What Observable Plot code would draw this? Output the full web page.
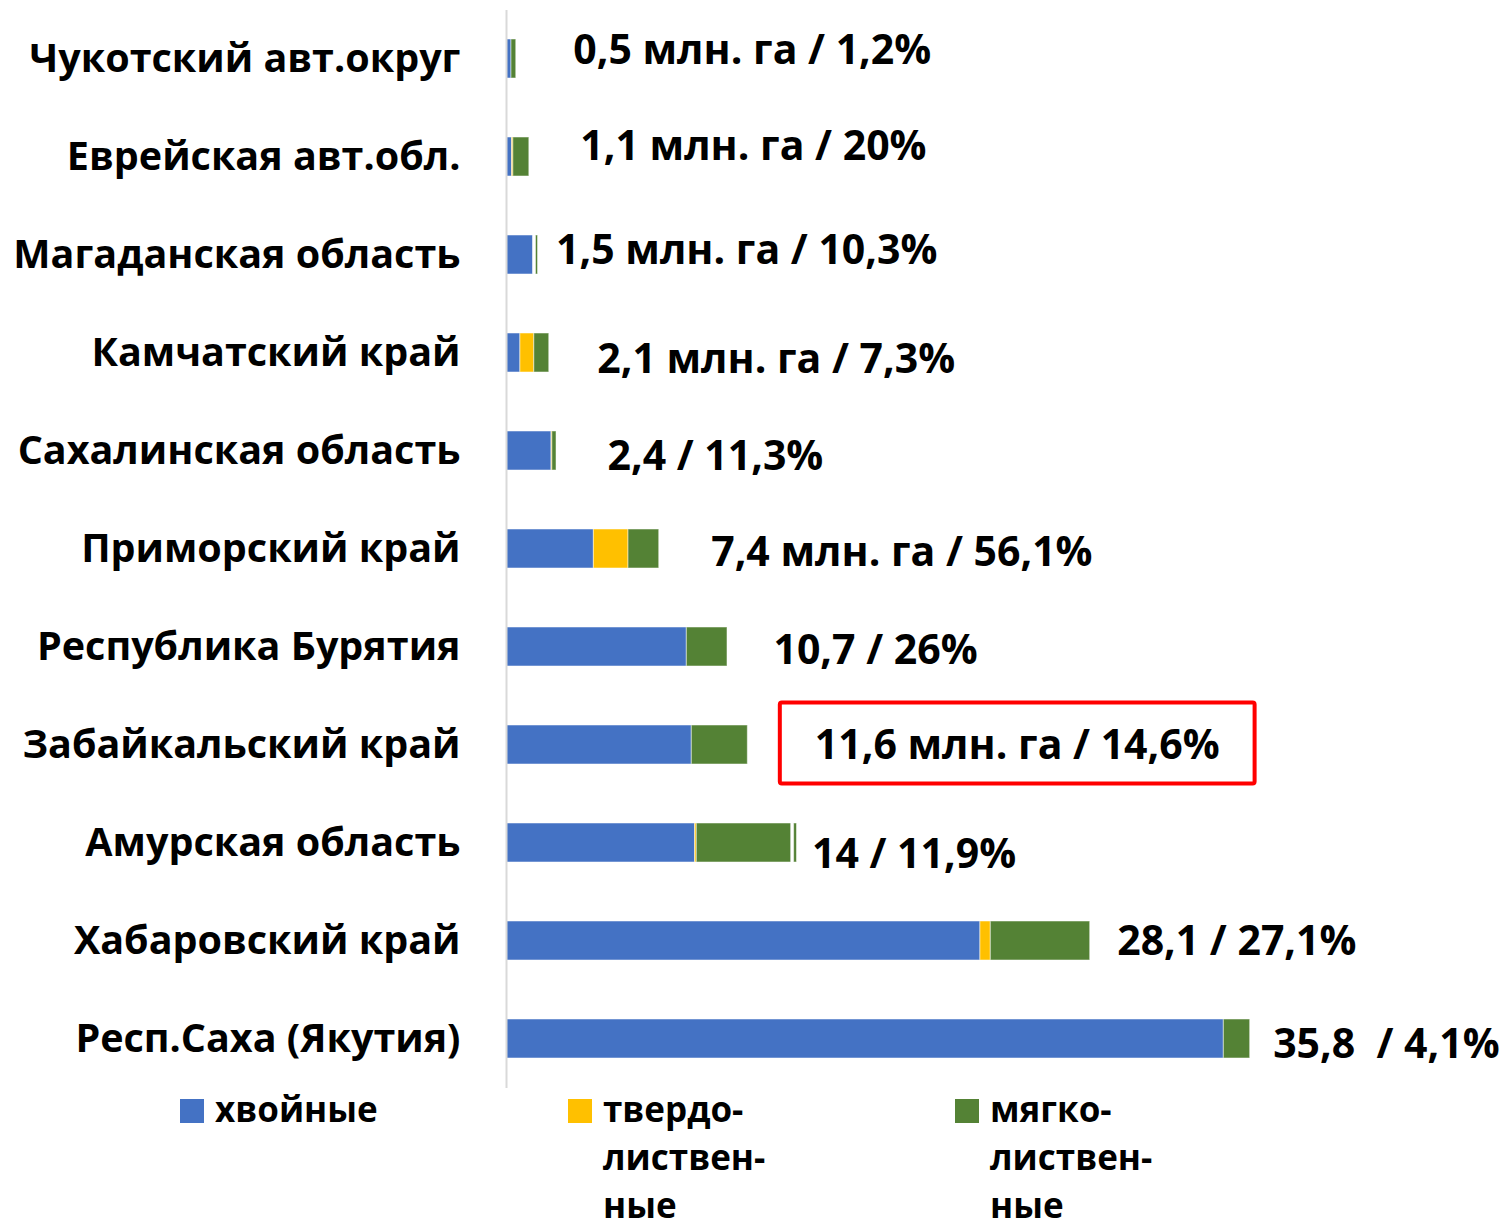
<!DOCTYPE html>
<html>
<head>
<meta charset="utf-8">
<script src="https://cdn.jsdelivr.net/npm/d3@7"></script>
<script src="https://cdn.jsdelivr.net/npm/@observablehq/plot@0.6"></script>
<style>
  html, body { margin: 0; padding: 0; background: #fff; }
  #wrap { position: relative; width: 1512px; height: 1230px; overflow: hidden; font-family: "Open Sans", sans-serif; }
  #chart svg { display: block; }
  #legend { position: relative; height: 140px; }
  .item { position: absolute; top: 0; font-weight: 700; font-size: 35px; line-height: 48px; color: #000; }
  .sw { position: absolute; top: 9px; width: 24px; height: 24px; }
  .lt { position: absolute; top: -5px; white-space: nowrap; }
</style>
</head>
<body>
<div id="wrap">
  <div id="chart"></div>
  <div id="legend"></div>
</div>
<script>
// ---- data (million ha) ----
const regions = [
  "Чукотский авт.округ",
  "Еврейская авт.обл.",
  "Магаданская область",
  "Камчатский край",
  "Сахалинская область",
  "Приморский край",
  "Республика Бурятия",
  "Забайкальский край",
  "Амурская область",
  "Хабаровский край",
  "Респ.Саха (Якутия)"
];
const conifer  = [0.24, 0.27, 1.29, 0.67, 2.17, 4.21, 8.69, 8.93, 9.09, 22.84, 34.57];
const hardwood = [0.00, 0.06, 0.00, 0.67, 0.04, 1.67, 0.00, 0.00, 0.08, 0.50, 0.00];
const softwood = [0.23, 0.77, 0.00, 0.72, 0.20, 1.48, 1.96, 2.70, 4.56, 4.79, 1.27];
const other    = [0.00, 0.00, 0.13, 0.00, 0.00, 0.00, 0.00, 0.00, 0.13, 0.00, 0.00];
const softwood2 = [0.00, 0.00, 0.10, 0.00, 0.00, 0.00, 0.00, 0.00, 0.14, 0.00, 0.00];
const valueLabels = [
  "0,5 млн. га / 1,2%",
  "1,1 млн. га / 20%",
  "1,5 млн. га / 10,3%",
  "2,1 млн. га / 7,3%",
  "2,4 / 11,3%",
  "7,4 млн. га / 56,1%",
  "10,7 / 26%",
  "11,6 млн. га / 14,6%",
  "14 / 11,9%",
  "28,1 / 27,1%",
  "35,8\u00a0 / 4,1%"
];
const highlighted = "Забайкальский край";
const seriesKeys = ["хвойные", "твердолиственные", "мягколиственные", "прочие", "мягколиственные (2)"];
const legendLabels = ["хвойные", "твердо-<br>листвен-<br>ные", "мягко-<br>листвен-<br>ные"];

// ---- styles / layout ----
const colors = ["#4472C4", "#FFC000", "#548235", "#ffffff", "#548235"];
const labelDx = [57, 51, 18, 48, 51, 52, 46, 67, 15, 27, 23];
const labelDy = [-8, -10, -4, 7, 6, 4, 4, 1, 12, 1, 6];
const FONT = "'Open Sans', sans-serif";

const seriesValues = [conifer, hardwood, softwood, other, softwood2];
const table = [];
regions.forEach((r, i) => {
  seriesKeys.forEach((s, k) => table.push({region: r, series: s, value: seriesValues[k][i]}));
});
const totals = regions.map((r, i) => seriesValues.reduce((a, arr) => a + arr[i], 0));

const idx = d3.range(regions.length);
const labelMarks = idx.map(i => Plot.text([i], {
  x: j => totals[j],
  y: j => regions[j],
  text: j => valueLabels[j],
  textAnchor: "start",
  dx: labelDx[i],
  dy: labelDy[i],
  fontSize: 41,
  fontWeight: 700,
  fill: "#000",
  className: regions[i] === highlighted ? "hl-label" : undefined
}));

const chart = Plot.plot({
  width: 1512,
  height: 1090,
  marginLeft: 506,
  marginRight: 10,
  marginTop: 10,
  marginBottom: 2,
  style: {fontFamily: FONT, background: "#fff"},
  x: {domain: [0, 48], axis: null},
  y: {domain: regions, paddingInner: 0.6, paddingOuter: 0.296, label: null},
  color: {domain: seriesKeys, range: colors},
  marks: [
    Plot.axisY({tickSize: 0, tickPadding: 46, fontSize: 39.5, fontWeight: 700, fill: "#000", label: null}),
    Plot.barX(table, {x: "value", y: "region", fill: "series", stroke: "#ffffff", strokeOpacity: 0.5, strokeWidth: 1}),
    Plot.ruleX([0], {stroke: "#d9d9d9", strokeWidth: 2}),
    ...labelMarks
  ]
});
document.getElementById("chart").appendChild(chart);

// red highlight box drawn around the highlighted label
const hl = chart.querySelector(".hl-label text");
if (hl) {
  const bb = hl.getBBox();
  const ctm = hl.getCTM();
  const svgNS = "http://www.w3.org/2000/svg";
  const rect = document.createElementNS(svgNS, "rect");
  const cx = bb.x + bb.width / 2, cy = bb.y + bb.height / 2;
  const w = bb.width + 70, h = 81;
  const p = chart.createSVGPoint(); p.x = cx; p.y = cy;
  const q = p.matrixTransform(ctm);
  rect.setAttribute("x", q.x - w / 2);
  rect.setAttribute("y", q.y - h / 2);
  rect.setAttribute("width", w);
  rect.setAttribute("height", h);
  rect.setAttribute("rx", 2);
  rect.setAttribute("fill", "none");
  rect.setAttribute("stroke", "#ff0000");
  rect.setAttribute("stroke-width", 4);
  chart.appendChild(rect);
}

// legend
const legend = document.getElementById("legend");
const legendLeft = [180, 568, 955];
legendLabels.forEach((lab, k) => {
  const it = document.createElement("div");
  it.className = "item";
  it.style.left = legendLeft[k] + "px";
  it.innerHTML = `<div class="sw" style="background:${colors[k]}"></div><div class="lt" style="left:35px">${lab}</div>`;
  legend.appendChild(it);
});
</script>
</body>
</html>
